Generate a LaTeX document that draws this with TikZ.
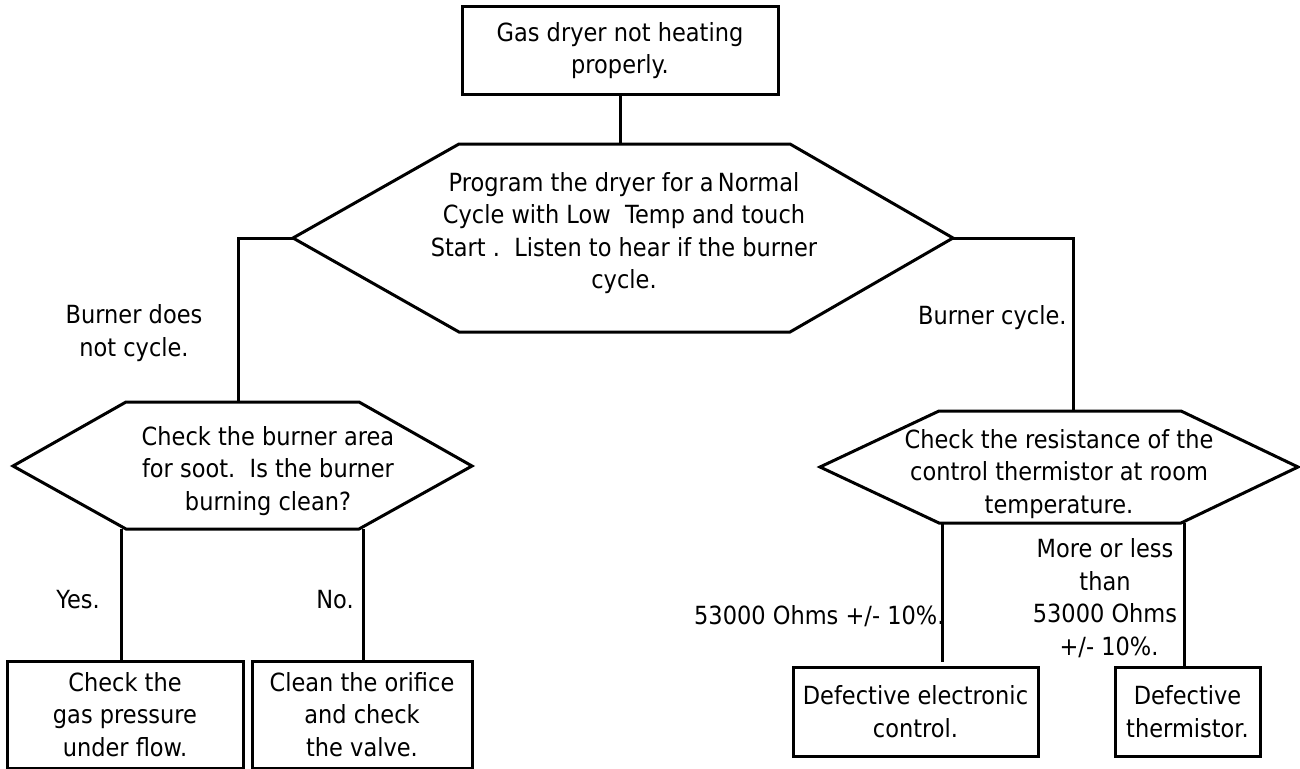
\documentclass[tikz,border=0pt]{standalone}
\usepackage{fontspec}
\setmainfont{DejaVu Sans}[FakeStretch=0.9]
\begin{document}
\begin{tikzpicture}[x=1pt,y=-1pt, line width=3pt,
  every node/.style={font=\fontsize{25}{32.5}\selectfont, inner sep=0pt, align=center},
  box/.style={draw, rectangle, line width=3pt},
  hexa/.style={draw, line width=3pt, line join=miter},
  conn/.style={draw, line width=3pt}]
\useasboundingbox (0,0) rectangle (1300,768);

% top box
\node[box, minimum width=316pt, minimum height=87pt] (top) at (620,50.5) {Gas dryer not heating\\properly.};

% hexagon 1
\coordinate (h1nw) at (459,144);
\coordinate (h1n) at (620,144);
\coordinate (h1ne) at (790,144);
\coordinate (h1e) at (953,238);
\coordinate (h1se) at (790,332);
\coordinate (h1sw) at (459,332);
\coordinate (h1w) at (293,238);
\draw[hexa] (h1nw) -- (h1ne) -- (h1e) -- (h1se) -- (h1sw) -- (h1w) -- cycle;
\node (h1) at (624,233) {Program the dryer for a\,Normal\\Cycle with Low\ \ Temp and touch\\Start .\ \ Listen to hear if the burner\\cycle.};

% hexagon 2
\coordinate (h2nw) at (126,402);
\coordinate (h2n) at (238,402);
\coordinate (h2ne) at (359,402);
\coordinate (h2e) at (472,466);
\coordinate (h2se) at (359,529);
\coordinate (h2sw) at (126,529);
\coordinate (h2w) at (13,466);
\coordinate (h2a) at (121,529);
\coordinate (h2b) at (363,529);
\draw[hexa] (h2nw) -- (h2ne) -- (h2e) -- (h2se) -- (h2sw) -- (h2w) -- cycle;
\node (h2) at (268,471) {Check the burner area\\for soot.\ \ Is the burner\\burning clean?};

% hexagon 3
\coordinate (h3nw) at (939,411);
\coordinate (h3n) at (1073,411);
\coordinate (h3ne) at (1181,411);
\coordinate (h3e) at (1298,467);
\coordinate (h3se) at (1181,523);
\coordinate (h3sw) at (939,523);
\coordinate (h3w) at (820,467);
\coordinate (h3a) at (942,523);
\coordinate (h3b) at (1184,523);
\draw[hexa] (h3nw) -- (h3ne) -- (h3e) -- (h3se) -- (h3sw) -- (h3w) -- cycle;
\node (h3) at (1059,474) {Check the resistance of the\\control thermistor at room\\temperature.};

% bottom boxes
\node[box, minimum width=236pt, minimum height=107pt] (b1) at (125,714.5) {Check the\\gas pressure\\under flow.};
\node[box, minimum width=220pt, minimum height=107pt] (b2) at (362,714.5) {Clean the orifice\\and check\\the valve.};
\node[box, minimum width=245pt, minimum height=89pt] (b3) at (915.5,711.5) {Defective electronic\\control.};
\node[box, minimum width=145pt, minimum height=89pt] (b4) at (1187.5,711.5) {Defective\\thermistor.};

% connectors
\draw[conn] (top.south) -- (h1n);
\draw[conn] (h1w) -| (h2n);
\draw[conn] (h1e) -| (h3n);
\draw[conn] (h2a) -- (h2a |- b1.north);
\draw[conn] (h2b) -- (h2b |- b2.north);
\draw[conn, shorten >=4pt] (h3a) -- (h3a |- b3.north);
\draw[conn] (h3b) -- (h3b |- b4.north);

% labels
\node (l1) at (134,333) {Burner does\\not cycle.};
\node[anchor=east] (l2) at (1068,318) {Burner cycle.};
\node (l3) at (78,600) {Yes.};
\node (l4) at (335,600) {No.};
\node[anchor=east] (l5) at (946,616) {53000 Ohms\ +/-\ 10\%.};
\node (l6) at (1105,598) {More or less\\than\\53000 Ohms\\\hspace*{8pt}+/- 10\%.};
\end{tikzpicture}
\end{document}
